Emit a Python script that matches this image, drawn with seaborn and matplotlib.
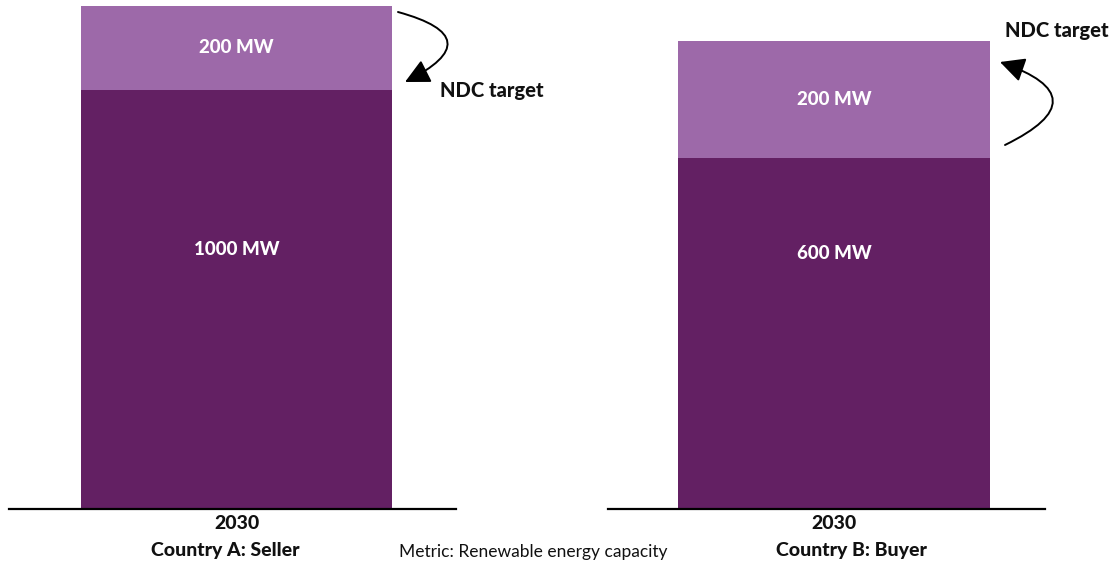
import matplotlib
matplotlib.use("Agg")
import matplotlib.pyplot as plt
import seaborn as sns
import pandas as pd

# Renewable energy capacity in 2030 (MW)
countries = ["Country A: Seller", "Country B: Buyer"]
years = ["2030", "2030"]
base_mw = [1000, 600]
transfer_mw = [200, 200]
ndc_label = "NDC target"
metric_label = "Metric: Renewable energy capacity"

DARK = "#632063"
LIGHT = "#9d69a9"
INK = "#111111"

sns.set_theme(style="white")
plt.rcParams["font.family"] = ["Lato", "DejaVu Sans"]

fig = plt.figure(figsize=(11.16, 5.67), dpi=100)

# panel geometry in figure fractions: [left, bottom, width, height]
panel_rects = [
    [9 / 1116, 58 / 567, 447 / 1116, 503 / 567],
    [608 / 1116, 58 / 567, 437 / 1116, 503 / 567],
]
xlims = [(-0.509, 0.491), (-0.517, 0.483)]
bar_widths = [0.696, 0.714]
ylims = [1200, 860]
base_label_y = [0.515, 0.507]
country_label_x = [0.483, 0.558]

for i in range(2):
    ax = fig.add_axes(panel_rects[i])
    df = pd.DataFrame({
        "year": [years[i]],
        "total": [base_mw[i] + transfer_mw[i]],
        "base": [base_mw[i]],
    })
    sns.barplot(data=df, x="year", y="total", color=LIGHT, saturation=1,
                width=bar_widths[i], ax=ax, linewidth=0)
    sns.barplot(data=df, x="year", y="base", color=DARK, saturation=1,
                width=bar_widths[i], ax=ax, linewidth=0)
    ax.set_xlim(*xlims[i])
    ax.set_ylim(0, ylims[i])
    for side in ["left", "right", "top"]:
        ax.spines[side].set_visible(False)
    ax.spines["bottom"].set_color("black")
    ax.spines["bottom"].set_linewidth(1.6)
    ax.set_yticks([])
    ax.tick_params(axis="x", length=0, pad=4)
    for t in ax.get_xticklabels():
        t.set_fontweight("black")
        t.set_fontsize(14)
        t.set_color(INK)
    ax.set_ylabel("")
    ax.set_xlabel(countries[i], fontsize=14, fontweight="black", color=INK)
    ax.xaxis.set_label_coords(country_label_x[i], -0.0656)

    # segment labels
    ax.text(0, base_mw[i] + transfer_mw[i] / 2, f"{transfer_mw[i]} MW",
            ha="center", va="center", color="white", fontsize=13.5,
            fontweight="black")
    ax.text(0, base_label_y[i], f"{base_mw[i]} MW",
            transform=ax.get_xaxis_transform(), ha="center", va="center",
            color="white", fontsize=13.5, fontweight="black")

# curved arrows towards the NDC target
arrow_style = dict(arrowstyle="-|>,head_length=1.0,head_width=0.5",
                   color="black", lw=1.4, shrinkA=0, shrinkB=0,
                   mutation_scale=15)
fig.axes[0].annotate("", xy=(405, 485), xytext=(398, 555),
                     xycoords="figure pixels", textcoords="figure pixels",
                     arrowprops=dict(connectionstyle="arc3,rad=-1.3",
                                     **arrow_style))
fig.axes[1].annotate("", xy=(1000, 505), xytext=(1005, 422),
                     xycoords="figure pixels", textcoords="figure pixels",
                     arrowprops=dict(connectionstyle="arc3,rad=1.2",
                                     **arrow_style))

fig.text(440 / 1116, 1 - 91 / 567, ndc_label, ha="left", va="center",
         fontsize=14.5, fontweight="black", color=INK)
fig.text(1005 / 1116, 1 - 30 / 567, ndc_label, ha="left", va="center",
         fontsize=14.5, fontweight="black", color=INK)
fig.text(533 / 1116, 1 - 552 / 567, metric_label, ha="center", va="center",
         fontsize=12.5, color=INK)

fig.savefig("out.png", dpi=100)
